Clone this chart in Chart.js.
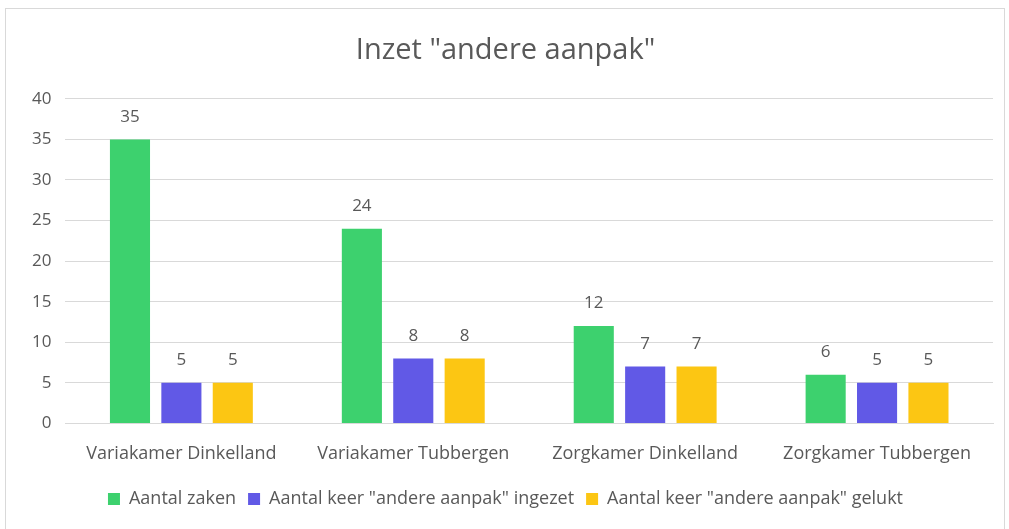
<!DOCTYPE html>
<html>
<head>
<meta charset="utf-8">
<script src="https://cdn.jsdelivr.net/npm/chart.js@4.4.0/dist/chart.umd.min.js"></script>
<style>
	html, body { margin: 0; padding: 0; background: #fff; }
	#wrap { position: absolute; left: 5px; top: 8px; width: 1000px; height: 521px; border: 1px solid #d9d9d9; border-bottom: none; box-sizing: border-box; }
</style>
</head>
<body>
<div id="wrap"><canvas id="barChart"></canvas></div>
<script>
var categories = ["Variakamer Dinkelland", "Variakamer Tubbergen", "Zorgkamer Dinkelland", "Zorgkamer Tubbergen"];
var seriesNames = ["Aantal zaken", "Aantal keer \"andere aanpak\" ingezet", "Aantal keer \"andere aanpak\" gelukt"];
var aantalZaken = [35, 24, 12, 6];
var aanpakIngezet = [5, 8, 7, 5];
var aanpakGelukt = [5, 8, 7, 5];
var yTicks = [0, 5, 10, 15, 20, 25, 30, 35, 40];

var fontFam = "'Open Sans', sans-serif";
var grey = "#595959";

// draws the number above each bar
var valueLabels = {
	id: "valueLabels",
	afterDatasetsDraw: function (chart) {
		var ctx = chart.ctx;
		ctx.save();
		ctx.fillStyle = grey;
		ctx.font = "17px " + fontFam;
		ctx.textAlign = "center";
		ctx.textBaseline = "bottom";
		chart.data.datasets.forEach(function (ds, i) {
			chart.getDatasetMeta(i).data.forEach(function (bar, j) {
				ctx.fillText(ds.data[j], bar.x, bar.y - 14);
			});
		});
		ctx.restore();
	}
};

var data = {
	labels: categories,
	datasets: [{
		label: seriesNames[0],
		backgroundColor: "#3dd16e",
		data: aantalZaken
	}, {
		label: seriesNames[1],
		backgroundColor: "#6159e6",
		data: aanpakIngezet
	}, {
		label: seriesNames[2],
		backgroundColor: "#fcc613",
		data: aanpakGelukt
	}]
};

var options = {
	responsive: true,
	maintainAspectRatio: false,
	animation: false,
	categoryPercentage: 0.665,
	barPercentage: 0.78,
	layout: { padding: { left: 12, right: 11, top: 0, bottom: 11 } },
	plugins: {
		title: {
			display: true,
			text: "Inzet \"andere aanpak\"",
			color: grey,
			font: { family: fontFam, size: 29, weight: "normal" },
			padding: { top: 24, bottom: 31 }
		},
		legend: {
			position: "bottom",
			labels: {
				color: grey,
				font: { family: fontFam, size: 18 },
				boxWidth: 12,
				boxHeight: 12,
				padding: 12
			}
		},
		tooltip: { enabled: false }
	},
	scales: {
		x: {
			grid: { display: false, drawTicks: false },
			border: { color: "#d9d9d9" },
			ticks: { color: grey, font: { family: fontFam, size: 18 }, padding: 20 },
			afterFit: function (axis) {
				axis.height -= 7;
			}
		},
		y: {
			min: 0,
			max: 40,
			afterBuildTicks: function (axis) {
				axis.ticks = yTicks.map(function (v) { return { value: v }; });
			},
			grid: { color: "#d9d9d9", drawTicks: false },
			border: { display: false },
			ticks: { color: grey, font: { family: fontFam, size: 17 }, padding: 14 }
		}
	}
};

var ctx = document.getElementById("barChart");
var myChart = new Chart(ctx, {
	type: "bar",
	data: data,
	options: options,
	plugins: [valueLabels]
});
</script>
</body>
</html>
